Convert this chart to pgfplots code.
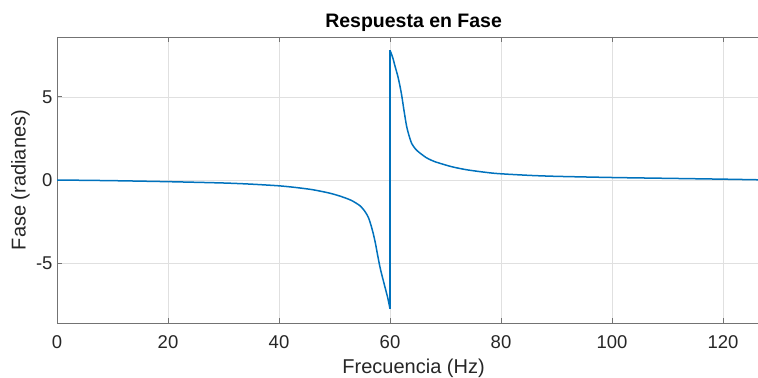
\documentclass[border=0pt]{standalone}
\usepackage{fontspec}
\setmainfont{Liberation Sans}
\usepackage{pgfplots}
\pgfplotsset{compat=1.18}
\definecolor{mblue}{rgb}{0,0.447,0.741}
\definecolor{axgray}{rgb}{0.15,0.15,0.15}
\begin{document}
\begin{tikzpicture}
\begin{axis}[
  at={(0,0)}, anchor=south west,
  scale only axis,
  width=713.2bp, height=286bp,
  xmin=0, xmax=128.5, ymin=-8.6, ymax=8.6,
  xtick={0,20,...,120}, ytick={-5,0,5},
  grid=major,
  major grid style={color=black!12, line width=0.6bp},
  axis line style={color=black!55, line width=0.8bp},
  tick style={color=black!55, line width=0.8bp},
  major tick length=5bp,
  tick align=inside,
  ticklabel style={font=\fontsize{18.5bp}{20bp}\selectfont, text=axgray},
  /pgf/number format/assume math mode=true,
  xticklabel style={yshift=-9bp},
  yticklabel style={xshift=-1bp},
  xlabel={Frecuencia (Hz)},
  ylabel={Fase (radianes)},
  xlabel style={font=\fontsize{20bp}{22bp}\selectfont, text=axgray, at={(axis description cs:0.5,-0.158)}, anchor=center},
  ylabel style={font=\fontsize{20bp}{22bp}\selectfont, text=axgray, at={(axis description cs:-0.0512,0.5)}, anchor=center, rotate=0},
  every axis title shift=0pt,
  title={Respuesta en Fase},
  title style={font=\bfseries\fontsize{19.5bp}{21bp}\selectfont, at={(axis description cs:0.5,1)}, anchor=base, yshift=9.5bp},
]
\addplot[color=mblue, line width=1.5bp, smooth, tension=0.4] coordinates {
(0,0) (10,-0.04) (20,-0.1) (30,-0.18) (35,-0.25) (40,-0.35) (43,-0.45) (46,-0.58)
(49,-0.78) (51,-0.97) (53,-1.22) (54.6,-1.55) (55.5,-1.9) (56.1,-2.25)
(56.6,-2.75) (57.0,-3.25) (57.4,-3.85) (57.7,-4.4) (58.2,-5.25) (58.6,-5.8) (59.1,-6.45)
(59.6,-7.1) (60,-7.75)
};
\addplot[color=mblue, line width=1.5bp] coordinates {(60,-7.75) (60,7.8)};
\addplot[color=mblue, line width=1.5bp, smooth, tension=0.4] coordinates {
(60,7.8) (60.5,7.35) (60.9,6.85) (61.4,6.25) (61.8,5.64) (62.1,5.1) (62.4,4.44)
(62.7,3.8) (63.0,3.22) (63.4,2.7) (63.9,2.2) (64.5,1.9) (65.1,1.7) (66.5,1.35)
(68.1,1.1) (71.1,0.8) (74.1,0.6) (78.9,0.4) (85,0.28) (90,0.22) (100,0.15)
(110,0.1) (120,0.05) (128.5,0.0)
};
\end{axis}
\pgfresetboundingbox
\path[use as bounding box] (-57bp,-55bp) rectangle (701bp,323bp);
\end{tikzpicture}
\end{document}
